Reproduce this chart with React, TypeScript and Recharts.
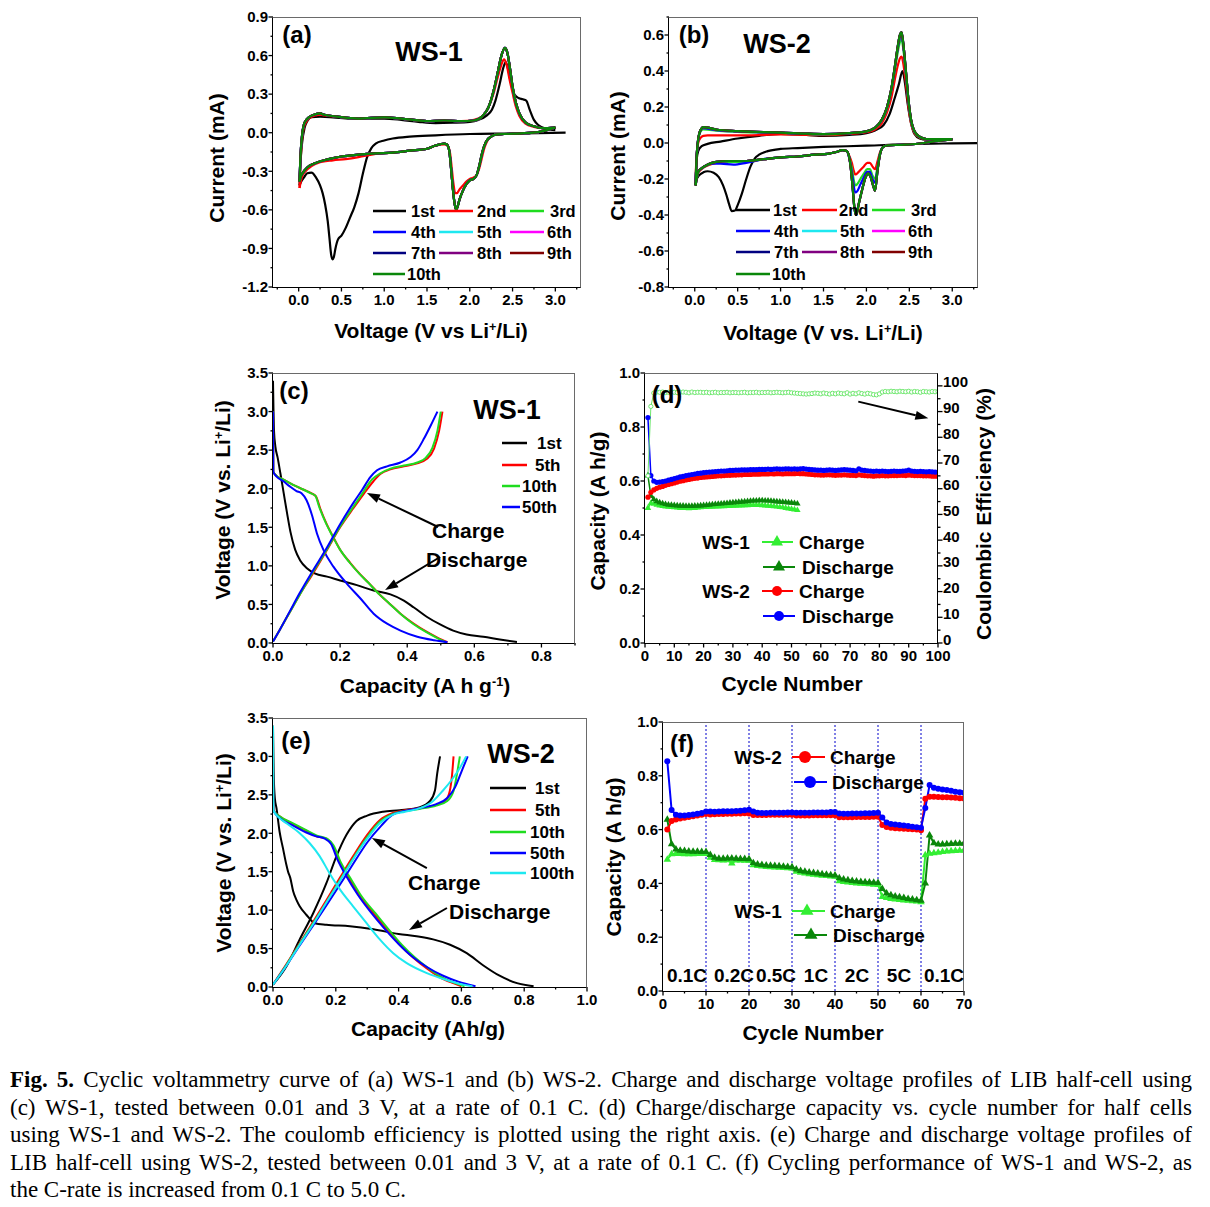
import React from "react";
import { LineChart, Line, XAxis, YAxis, ReferenceLine } from "recharts";

type P = [number, number];
type Rect = { l: number; t: number; w: number; h: number };

const SANS = '"Liberation Sans", Arial, Helvetica, sans-serif';
const SERIF = '"Liberation Serif", "Times New Roman", Times, serif';

const BLACK = "#000000";
const RED = "#ff0000";
const GREEN = "#1fdc1f";
const BLUE = "#0000ff";
const CYAN = "#1ee8f0";
const MAGENTA = "#ff00ff";
const NAVY = "#000080";
const PURPLE = "#800080";
const WINE = "#800000";
const DKGREEN = "#0a870a";
const LTGREEN = "#33ee33";
const CE_GREEN = "#6ee86e";
const DOT_BLUE = "#0000cc";

// ---------- (a) CV of WS-1, [V, mA] in sweep order ----------
const CV_A_1ST: P[] = [
  [3.12, 0.0], [2.8, -0.003], [2.4, -0.006], [2.0, -0.01], [1.6, -0.02], [1.3, -0.03], [1.1, -0.045],
  [1.0, -0.06], [0.9, -0.085], [0.85, -0.12], [0.8, -0.19], [0.75, -0.32], [0.7, -0.47], [0.65, -0.58],
  [0.6, -0.66], [0.55, -0.74], [0.5, -0.8], [0.46, -0.83], [0.43, -0.9], [0.41, -0.97], [0.395, -0.985],
  [0.38, -0.95], [0.36, -0.82], [0.34, -0.69], [0.31, -0.56], [0.28, -0.47], [0.25, -0.41], [0.2, -0.345],
  [0.15, -0.31], [0.1, -0.315], [0.06, -0.35], [0.03, -0.38], [0.01, -0.41],
  [0.02, -0.25], [0.04, -0.08], [0.07, 0.04], [0.1, 0.09], [0.15, 0.12], [0.25, 0.125], [0.4, 0.12],
  [0.6, 0.11], [0.8, 0.11], [1.0, 0.11], [1.2, 0.1], [1.4, 0.085], [1.6, 0.075], [1.8, 0.078], [2.0, 0.085],
  [2.1, 0.1], [2.2, 0.135], [2.26, 0.18], [2.3, 0.25], [2.35, 0.38], [2.39, 0.5], [2.42, 0.55], [2.45, 0.49],
  [2.48, 0.39], [2.52, 0.3], [2.57, 0.27], [2.62, 0.26], [2.66, 0.25], [2.7, 0.18], [2.75, 0.1], [2.8, 0.06],
  [2.9, 0.03], [3.0, 0.02],
];
const CV_A_2ND: P[] = [
  [3.0, 0.04], [2.9, 0.02], [2.8, 0.005], [2.6, -0.005], [2.4, -0.01], [2.3, -0.015], [2.25, -0.03],
  [2.2, -0.07], [2.17, -0.12], [2.14, -0.2], [2.11, -0.28], [2.08, -0.33], [2.04, -0.35], [2.0, -0.36],
  [1.96, -0.38], [1.92, -0.41], [1.88, -0.44], [1.85, -0.47], [1.83, -0.47], [1.81, -0.4], [1.79, -0.28],
  [1.77, -0.16], [1.74, -0.1], [1.7, -0.09], [1.6, -0.1], [1.5, -0.125], [1.3, -0.14], [1.1, -0.155],
  [0.9, -0.165], [0.7, -0.19], [0.55, -0.205], [0.4, -0.215], [0.25, -0.23], [0.15, -0.26], [0.08, -0.3],
  [0.04, -0.34], [0.01, -0.43],
  [0.02, -0.25], [0.04, -0.05], [0.07, 0.06], [0.12, 0.11], [0.2, 0.135], [0.25, 0.14], [0.3, 0.135],
  [0.45, 0.125], [0.7, 0.11], [1.0, 0.12], [1.2, 0.11], [1.5, 0.09], [1.7, 0.095], [1.9, 0.09], [2.05, 0.1],
  [2.15, 0.13], [2.22, 0.2], [2.28, 0.31], [2.33, 0.44], [2.37, 0.53], [2.4, 0.57], [2.43, 0.53],
  [2.46, 0.43], [2.5, 0.31], [2.54, 0.2], [2.58, 0.13], [2.65, 0.07], [2.75, 0.045], [2.85, 0.035], [3.0, 0.04],
];
const CV_A_LATER: P[] = [
  [3.0, 0.04], [2.9, 0.02], [2.8, 0.005], [2.6, -0.005], [2.4, -0.01], [2.3, -0.015], [2.25, -0.03],
  [2.2, -0.06], [2.17, -0.1], [2.14, -0.17], [2.11, -0.26], [2.08, -0.33], [2.04, -0.36], [2.0, -0.37],
  [1.96, -0.4], [1.92, -0.45], [1.88, -0.52], [1.855, -0.58], [1.84, -0.6], [1.82, -0.54], [1.8, -0.42],
  [1.78, -0.27], [1.76, -0.14], [1.73, -0.09], [1.7, -0.085], [1.6, -0.1], [1.5, -0.125], [1.3, -0.14],
  [1.1, -0.155], [0.9, -0.16], [0.7, -0.17], [0.5, -0.185], [0.35, -0.205], [0.2, -0.235], [0.1, -0.27],
  [0.05, -0.31], [0.02, -0.35], [0.01, -0.38],
  [0.02, -0.2], [0.04, -0.02], [0.07, 0.08], [0.12, 0.12], [0.2, 0.145], [0.25, 0.15], [0.3, 0.14],
  [0.45, 0.125], [0.7, 0.11], [1.0, 0.12], [1.2, 0.11], [1.5, 0.09], [1.7, 0.095], [1.9, 0.09], [2.05, 0.095],
  [2.15, 0.13], [2.22, 0.2], [2.28, 0.33], [2.33, 0.48], [2.37, 0.6], [2.41, 0.66], [2.44, 0.62],
  [2.47, 0.5], [2.5, 0.36], [2.54, 0.23], [2.58, 0.15], [2.65, 0.08], [2.75, 0.05], [2.85, 0.035], [3.0, 0.04],
];

// ---------- (b) CV of WS-2 ----------
const CV_B_1ST: P[] = [
  [3.35, 0.0], [3.0, -0.002], [2.5, -0.006], [2.0, -0.015], [1.5, -0.022], [1.2, -0.028], [1.0, -0.033],
  [0.85, -0.045], [0.75, -0.065], [0.7, -0.085], [0.65, -0.13], [0.6, -0.2], [0.55, -0.28], [0.5, -0.345],
  [0.47, -0.375], [0.43, -0.378], [0.4, -0.34], [0.37, -0.29], [0.33, -0.235], [0.28, -0.19], [0.22, -0.165],
  [0.15, -0.157], [0.1, -0.163], [0.05, -0.18], [0.01, -0.21],
  [0.02, -0.1], [0.04, -0.045], [0.08, -0.018], [0.15, -0.005], [0.3, 0.008], [0.5, 0.025], [0.75, 0.04],
  [1.0, 0.05], [1.3, 0.045], [1.5, 0.04], [1.8, 0.045], [2.0, 0.055], [2.1, 0.07], [2.2, 0.1], [2.27, 0.16],
  [2.33, 0.25], [2.38, 0.33], [2.42, 0.4], [2.45, 0.33], [2.48, 0.22], [2.52, 0.11], [2.56, 0.05],
  [2.62, 0.025], [2.7, 0.018], [3.0, 0.018],
];
const CV_B_2ND: P[] = [
  [3.0, 0.022], [2.8, 0.01], [2.6, -0.004], [2.4, -0.01], [2.25, -0.013], [2.2, -0.02], [2.16, -0.05],
  [2.13, -0.1], [2.1, -0.145], [2.07, -0.13], [2.04, -0.11], [2.01, -0.11], [1.97, -0.13], [1.93, -0.15],
  [1.89, -0.17], [1.87, -0.175], [1.85, -0.15], [1.83, -0.11], [1.8, -0.07], [1.77, -0.045], [1.72, -0.04],
  [1.65, -0.05], [1.55, -0.06], [1.4, -0.065], [1.2, -0.075], [1.0, -0.08], [0.8, -0.09], [0.6, -0.1],
  [0.4, -0.105], [0.25, -0.11], [0.15, -0.125], [0.08, -0.145], [0.04, -0.165], [0.01, -0.2],
  [0.02, -0.08], [0.04, 0.0], [0.07, 0.03], [0.1, 0.04], [0.15, 0.042], [0.3, 0.042], [0.5, 0.042],
  [0.8, 0.045], [1.0, 0.048], [1.3, 0.045], [1.5, 0.043], [1.8, 0.05], [2.0, 0.06], [2.1, 0.075],
  [2.18, 0.11], [2.24, 0.17], [2.29, 0.25], [2.33, 0.35], [2.36, 0.42], [2.39, 0.47], [2.41, 0.48],
  [2.43, 0.44], [2.46, 0.33], [2.49, 0.2], [2.52, 0.11], [2.56, 0.055], [2.62, 0.03], [2.7, 0.02], [3.0, 0.02],
];
const CV_B_3RD: P[] = [
  [3.0, 0.022], [2.8, 0.01], [2.6, -0.004], [2.4, -0.01], [2.25, -0.013], [2.2, -0.02], [2.16, -0.055],
  [2.13, -0.13], [2.1, -0.2], [2.07, -0.18], [2.04, -0.145], [2.01, -0.145], [1.97, -0.17], [1.93, -0.2],
  [1.89, -0.23], [1.87, -0.235], [1.85, -0.2], [1.83, -0.14], [1.8, -0.08], [1.77, -0.045], [1.72, -0.04],
  [1.65, -0.05], [1.55, -0.06], [1.4, -0.065], [1.2, -0.075], [1.0, -0.08], [0.8, -0.09], [0.6, -0.105],
  [0.4, -0.105], [0.25, -0.108], [0.15, -0.122], [0.08, -0.142], [0.04, -0.162], [0.01, -0.215],
  [0.02, -0.09], [0.04, 0.015], [0.07, 0.065], [0.1, 0.075], [0.15, 0.074], [0.25, 0.068], [0.5, 0.062],
  [0.8, 0.058], [1.0, 0.056], [1.3, 0.05], [1.5, 0.048], [1.8, 0.054], [2.0, 0.064], [2.1, 0.083],
  [2.18, 0.125], [2.24, 0.19], [2.29, 0.29], [2.33, 0.4], [2.36, 0.49], [2.39, 0.56], [2.41, 0.575],
  [2.43, 0.52], [2.46, 0.38], [2.49, 0.23], [2.52, 0.12], [2.56, 0.06], [2.62, 0.032], [2.7, 0.021], [3.0, 0.021],
];
const CV_B_4TH: P[] = [
  [3.0, 0.022], [2.8, 0.01], [2.6, -0.004], [2.4, -0.01], [2.25, -0.013], [2.2, -0.02], [2.16, -0.058],
  [2.13, -0.14], [2.1, -0.22], [2.07, -0.2], [2.04, -0.16], [2.01, -0.16], [1.97, -0.19], [1.93, -0.23],
  [1.89, -0.27], [1.87, -0.275], [1.85, -0.23], [1.83, -0.16], [1.8, -0.085], [1.77, -0.045], [1.72, -0.04],
  [1.65, -0.05], [1.55, -0.06], [1.4, -0.065], [1.2, -0.075], [1.0, -0.08], [0.8, -0.09], [0.6, -0.11],
  [0.45, -0.12], [0.3, -0.115], [0.2, -0.115], [0.12, -0.128], [0.07, -0.145], [0.04, -0.16], [0.01, -0.225],
  [0.02, -0.095], [0.04, 0.018], [0.07, 0.072], [0.1, 0.083], [0.15, 0.08], [0.25, 0.072], [0.5, 0.064],
  [0.8, 0.059], [1.0, 0.057], [1.3, 0.051], [1.5, 0.049], [1.8, 0.055], [2.0, 0.065], [2.1, 0.084],
  [2.18, 0.128], [2.24, 0.195], [2.29, 0.295], [2.33, 0.41], [2.36, 0.51], [2.39, 0.585], [2.41, 0.6],
  [2.43, 0.54], [2.46, 0.39], [2.49, 0.235], [2.52, 0.125], [2.56, 0.063], [2.62, 0.034], [2.7, 0.022], [3.0, 0.022],
];
const CV_B_LATER: P[] = [
  [3.0, 0.022], [2.8, 0.01], [2.6, -0.004], [2.4, -0.01], [2.25, -0.013], [2.2, -0.02], [2.16, -0.06],
  [2.13, -0.15], [2.1, -0.265], [2.08, -0.24], [2.05, -0.19], [2.02, -0.17], [1.99, -0.19], [1.95, -0.26],
  [1.91, -0.34], [1.88, -0.4], [1.86, -0.36], [1.84, -0.25], [1.82, -0.15], [1.8, -0.08], [1.77, -0.045],
  [1.72, -0.04], [1.65, -0.05], [1.55, -0.06], [1.4, -0.065], [1.2, -0.075], [1.0, -0.08], [0.8, -0.09],
  [0.6, -0.1], [0.4, -0.1], [0.25, -0.105], [0.15, -0.12], [0.08, -0.14], [0.04, -0.16], [0.01, -0.235],
  [0.02, -0.1], [0.04, 0.02], [0.07, 0.075], [0.1, 0.088], [0.15, 0.085], [0.25, 0.075], [0.5, 0.066],
  [0.8, 0.06], [1.0, 0.058], [1.3, 0.052], [1.5, 0.05], [1.8, 0.055], [2.0, 0.065], [2.1, 0.085],
  [2.18, 0.13], [2.24, 0.2], [2.29, 0.3], [2.33, 0.42], [2.36, 0.52], [2.39, 0.6], [2.41, 0.615],
  [2.43, 0.55], [2.46, 0.4], [2.49, 0.24], [2.52, 0.13], [2.56, 0.065], [2.62, 0.035], [2.7, 0.022], [3.0, 0.022],
];

const CV_CYCLES = ["1st", "2nd", "3rd", "4th", "5th", "6th", "7th", "8th", "9th", "10th"];
const CV_COLORS = [BLACK, RED, GREEN, BLUE, CYAN, MAGENTA, NAVY, PURPLE, WINE, DKGREEN];
const CV_A_SERIES = [CV_A_1ST, CV_A_2ND, CV_A_LATER, CV_A_LATER, CV_A_LATER, CV_A_LATER, CV_A_LATER, CV_A_LATER, CV_A_LATER, CV_A_LATER];
const CV_B_SERIES = [CV_B_1ST, CV_B_2ND, CV_B_3RD, CV_B_4TH, CV_B_LATER, CV_B_LATER, CV_B_LATER, CV_B_LATER, CV_B_LATER, CV_B_LATER];

// ---------- (c) WS-1 charge/discharge, [A h/g, V] ----------
const C_1ST_DIS: P[] = [
  [0, 3.4], [0.003, 2.75], [0.007, 2.55], [0.014, 2.4], [0.022, 2.2], [0.032, 1.94], [0.042, 1.68],
  [0.052, 1.44], [0.066, 1.21], [0.081, 1.07], [0.101, 0.97], [0.126, 0.9], [0.161, 0.86], [0.2, 0.81],
  [0.25, 0.75], [0.3, 0.68], [0.35, 0.63], [0.39, 0.55], [0.42, 0.46], [0.458, 0.34], [0.498, 0.24],
  [0.537, 0.16], [0.577, 0.11], [0.627, 0.08], [0.676, 0.045], [0.727, 0.012],
];
const C_5TH_DIS: P[] = [
  [0, 3.0], [0.001, 2.22], [0.01, 2.17], [0.03, 2.12], [0.06, 2.05], [0.09, 1.99], [0.115, 1.94],
  [0.128, 1.9], [0.141, 1.74], [0.16, 1.54], [0.18, 1.37], [0.2, 1.21], [0.23, 1.04], [0.26, 0.89],
  [0.285, 0.78], [0.32, 0.62], [0.35, 0.5], [0.38, 0.38], [0.42, 0.25], [0.46, 0.14], [0.49, 0.07], [0.52, 0.01],
];
const C_10TH_DIS: P[] = [
  [0, 3.0], [0.001, 2.22], [0.01, 2.17], [0.03, 2.12], [0.06, 2.05], [0.09, 1.99], [0.113, 1.94],
  [0.126, 1.91], [0.138, 1.76], [0.157, 1.56], [0.177, 1.39], [0.197, 1.23], [0.227, 1.05], [0.257, 0.9],
  [0.282, 0.79], [0.317, 0.63], [0.347, 0.51], [0.377, 0.39], [0.417, 0.25], [0.457, 0.14], [0.487, 0.07], [0.515, 0.01],
];
const C_50TH_DIS: P[] = [
  [0, 3.0], [0.001, 2.22], [0.01, 2.16], [0.03, 2.1], [0.05, 2.03], [0.07, 1.97], [0.085, 1.94],
  [0.1, 1.85], [0.116, 1.66], [0.131, 1.42], [0.151, 1.2], [0.18, 0.99], [0.22, 0.77], [0.26, 0.58],
  [0.3, 0.38], [0.34, 0.25], [0.38, 0.16], [0.43, 0.08], [0.48, 0.035], [0.52, 0.01],
];
const C_5TH_CHG: P[] = [
  [0, 0.02], [0.02, 0.17], [0.05, 0.4], [0.08, 0.63], [0.116, 0.88], [0.16, 1.2], [0.2, 1.5], [0.24, 1.75],
  [0.27, 1.93], [0.3, 2.1], [0.32, 2.19], [0.35, 2.25], [0.39, 2.29], [0.43, 2.33], [0.46, 2.39],
  [0.48, 2.52], [0.495, 2.75], [0.505, 3.0],
];
const C_10TH_CHG: P[] = [
  [0, 0.02], [0.02, 0.17], [0.05, 0.4], [0.08, 0.63], [0.115, 0.89], [0.16, 1.21], [0.2, 1.51], [0.24, 1.77],
  [0.268, 1.95], [0.295, 2.12], [0.32, 2.2], [0.35, 2.26], [0.39, 2.3], [0.43, 2.34], [0.455, 2.4],
  [0.475, 2.53], [0.49, 2.75], [0.5, 3.0],
];
const C_50TH_CHG: P[] = [
  [0, 0.02], [0.02, 0.17], [0.05, 0.41], [0.08, 0.65], [0.115, 0.91], [0.16, 1.23], [0.2, 1.54], [0.24, 1.82],
  [0.265, 1.98], [0.29, 2.15], [0.31, 2.24], [0.34, 2.29], [0.38, 2.34], [0.41, 2.41], [0.43, 2.5],
  [0.45, 2.65], [0.47, 2.82], [0.49, 3.0],
];

// ---------- (e) WS-2 charge/discharge ----------
const E_1ST_DIS: P[] = [
  [0, 3.4], [0.002, 2.8], [0.006, 2.45], [0.011, 2.33], [0.021, 2.02], [0.032, 1.8], [0.042, 1.6],
  [0.048, 1.5], [0.055, 1.42], [0.064, 1.25], [0.075, 1.13], [0.085, 1.05], [0.106, 0.94], [0.133, 0.83],
  [0.17, 0.81], [0.245, 0.79], [0.32, 0.75], [0.4, 0.69], [0.457, 0.66], [0.51, 0.62], [0.564, 0.55],
  [0.617, 0.44], [0.67, 0.28], [0.72, 0.15], [0.777, 0.05], [0.83, 0.01],
];
const E_5TH_DIS: P[] = [
  [0, 3.0], [0.001, 2.3], [0.021, 2.22], [0.064, 2.12], [0.106, 2.03], [0.138, 1.96], [0.17, 1.93],
  [0.19, 1.84], [0.213, 1.62], [0.245, 1.4], [0.277, 1.18], [0.32, 0.96], [0.362, 0.75], [0.404, 0.55],
  [0.447, 0.38], [0.49, 0.24], [0.53, 0.13], [0.574, 0.05], [0.6, 0.01],
];
const E_10TH_DIS: P[] = [
  [0, 3.0], [0.001, 2.3], [0.021, 2.22], [0.064, 2.13], [0.106, 2.04], [0.14, 1.97], [0.172, 1.93],
  [0.193, 1.84], [0.216, 1.62], [0.249, 1.4], [0.282, 1.18], [0.326, 0.96], [0.368, 0.75], [0.41, 0.55],
  [0.453, 0.38], [0.496, 0.24], [0.536, 0.13], [0.58, 0.05], [0.61, 0.01],
];
const E_50TH_DIS: P[] = [
  [0, 3.0], [0.001, 2.3], [0.021, 2.2], [0.064, 2.1], [0.106, 2.01], [0.138, 1.96], [0.165, 1.93],
  [0.185, 1.86], [0.205, 1.66], [0.235, 1.43], [0.27, 1.2], [0.31, 0.98], [0.355, 0.76], [0.4, 0.56],
  [0.445, 0.39], [0.49, 0.26], [0.54, 0.15], [0.59, 0.07], [0.645, 0.01],
];
const E_100TH_DIS: P[] = [
  [0, 3.4], [0.001, 2.3], [0.02, 2.2], [0.043, 2.13], [0.085, 2.0], [0.117, 1.87], [0.149, 1.7],
  [0.18, 1.48], [0.213, 1.27], [0.255, 1.05], [0.298, 0.83], [0.34, 0.62], [0.383, 0.44], [0.426, 0.31],
  [0.49, 0.18], [0.553, 0.09], [0.6, 0.035], [0.635, 0.01],
];
const E_1ST_CHG: P[] = [
  [0, 0.03], [0.043, 0.27], [0.085, 0.62], [0.128, 0.96], [0.17, 1.35], [0.2, 1.68], [0.234, 1.98],
  [0.266, 2.16], [0.3, 2.23], [0.35, 2.28], [0.404, 2.3], [0.468, 2.34], [0.5, 2.42], [0.516, 2.56],
  [0.523, 2.78], [0.532, 3.0],
];
const E_5TH_CHG: P[] = [
  [0, 0.03], [0.043, 0.3], [0.085, 0.57], [0.128, 0.85], [0.17, 1.13], [0.213, 1.42], [0.255, 1.7],
  [0.3, 1.98], [0.34, 2.17], [0.38, 2.26], [0.42, 2.3], [0.47, 2.33], [0.52, 2.37], [0.55, 2.43],
  [0.563, 2.55], [0.57, 2.75], [0.575, 3.0],
];
const E_10TH_CHG: P[] = [
  [0, 0.03], [0.043, 0.29], [0.085, 0.56], [0.128, 0.83], [0.17, 1.1], [0.213, 1.39], [0.255, 1.67],
  [0.3, 1.95], [0.34, 2.15], [0.38, 2.25], [0.42, 2.29], [0.47, 2.32], [0.52, 2.36], [0.555, 2.42],
  [0.575, 2.55], [0.585, 2.75], [0.595, 3.0],
];
const E_50TH_CHG: P[] = [
  [0, 0.03], [0.043, 0.28], [0.085, 0.54], [0.128, 0.8], [0.17, 1.06], [0.213, 1.33], [0.255, 1.6],
  [0.3, 1.88], [0.345, 2.1], [0.38, 2.24], [0.42, 2.29], [0.47, 2.33], [0.52, 2.38], [0.555, 2.46],
  [0.58, 2.6], [0.6, 2.8], [0.62, 3.0],
];
const E_100TH_CHG: P[] = [
  [0, 0.03], [0.043, 0.28], [0.085, 0.55], [0.128, 0.82], [0.17, 1.1], [0.213, 1.38], [0.255, 1.66],
  [0.3, 1.93], [0.34, 2.13], [0.38, 2.24], [0.42, 2.28], [0.47, 2.33], [0.51, 2.42], [0.54, 2.55],
  [0.57, 2.7], [0.595, 2.85], [0.615, 3.0],
];

// ---------- (d) capacity vs cycle (A h/g), CE in % ----------
const D_WS2_DIS = [
  0.835, 0.62, 0.6, 0.595, 0.596, 0.598, 0.6, 0.603, 0.606, 0.609,
  0.612, 0.615, 0.617, 0.62, 0.622, 0.624, 0.626, 0.628, 0.629, 0.631,
  0.632, 0.633, 0.634, 0.635, 0.636, 0.637, 0.637, 0.638, 0.639, 0.639,
  0.64, 0.64, 0.641, 0.641, 0.641, 0.642, 0.642, 0.642, 0.643, 0.643,
  0.643, 0.644, 0.643, 0.644, 0.645, 0.644, 0.644, 0.645, 0.645, 0.644,
  0.645, 0.644, 0.645, 0.646, 0.644, 0.643, 0.642, 0.641, 0.64, 0.64,
  0.639, 0.64, 0.641, 0.64, 0.639, 0.64, 0.641, 0.642, 0.641, 0.64,
  0.639, 0.638, 0.645, 0.64, 0.639, 0.638, 0.637, 0.636, 0.637, 0.636,
  0.637, 0.636, 0.635, 0.636, 0.637, 0.636, 0.636, 0.637, 0.638, 0.64,
  0.637, 0.636, 0.635, 0.636, 0.635, 0.634, 0.635, 0.634, 0.633, 0.633,
];
const D_WS2_CHG = [
  0.54, 0.558, 0.567, 0.573, 0.577, 0.58, 0.584, 0.587, 0.59, 0.593,
  0.596, 0.599, 0.601, 0.604, 0.606, 0.608, 0.61, 0.611, 0.613, 0.614,
  0.615, 0.616, 0.617, 0.618, 0.619, 0.619, 0.62, 0.621, 0.621, 0.622,
  0.622, 0.623, 0.623, 0.624, 0.624, 0.624, 0.625, 0.625, 0.625, 0.626,
  0.626, 0.626, 0.627, 0.626, 0.627, 0.627, 0.626, 0.627, 0.627, 0.627,
  0.627, 0.628, 0.627, 0.627, 0.626, 0.625, 0.624, 0.623, 0.623, 0.622,
  0.622, 0.623, 0.623, 0.622, 0.621, 0.622, 0.622, 0.623, 0.622, 0.621,
  0.621, 0.62, 0.623, 0.621, 0.62, 0.619, 0.619, 0.618, 0.619, 0.619,
  0.62, 0.619, 0.619, 0.62, 0.62, 0.62, 0.621, 0.621, 0.62, 0.622,
  0.621, 0.62, 0.62, 0.62, 0.619, 0.619, 0.619, 0.618, 0.618, 0.618,
];
const D_WS1_DIS = [
  0.62, 0.545, 0.532, 0.525, 0.52, 0.517, 0.514, 0.512, 0.511, 0.51,
  0.509, 0.508, 0.508, 0.507, 0.507, 0.507, 0.508, 0.508, 0.509, 0.51,
  0.511, 0.512, 0.513, 0.514, 0.515, 0.516, 0.517, 0.518, 0.519, 0.52,
  0.521, 0.522, 0.523, 0.524, 0.525, 0.526, 0.527, 0.527, 0.528, 0.528,
  0.527, 0.527, 0.526, 0.525, 0.524, 0.523, 0.522, 0.521, 0.52, 0.519,
  0.518, 0.516,
];
const D_WS1_CHG = [
  0.5, 0.518, 0.515, 0.512, 0.509, 0.507, 0.505, 0.504, 0.503, 0.502,
  0.501, 0.5, 0.5, 0.5, 0.499, 0.5, 0.5, 0.501, 0.502, 0.503,
  0.503, 0.504, 0.504, 0.505, 0.505, 0.506, 0.506, 0.507, 0.507, 0.508,
  0.508, 0.509, 0.509, 0.51, 0.51, 0.511, 0.511, 0.511, 0.511, 0.51,
  0.509, 0.508, 0.507, 0.506, 0.505, 0.503, 0.502, 0.5, 0.498, 0.496,
  0.494, 0.492,
];
const D_CE = [
  65, 92, 97.2, 97.6, 97.5, 97.6, 97.4, 97.5, 97.6, 97.5,
  97.4, 97.5, 97.6, 97.5, 97.3, 97.6, 97.4, 97.5, 97.5, 97.4,
  97.5, 97.3, 97.4, 97.5, 97.3, 97.4, 97.4, 97.5, 97.3, 97.4,
  97.4, 97.3, 97.4, 97.5, 97.3, 97.4, 97.4, 97.5, 97.3, 97.4,
  97.4, 97.5, 97.3, 97.4, 97.5, 97.4, 97.3, 97.4, 97.5, 97.3,
  97.2, 97.1, 97.0, 96.9, 96.8, 96.9, 97.0, 97.2, 97.1, 96.9,
  97.2, 97.0, 96.8, 97.1, 96.9, 97.2, 97.0, 96.9, 97.3, 96.8,
  97.1, 96.9, 97.3, 97.0, 96.8, 97.1, 96.9, 96.6, 96.5, 96.9,
  97.6, 97.8, 97.7, 97.9, 97.8, 97.7, 97.9, 97.8, 97.7, 97.9,
  97.6, 97.8, 97.7, 97.5, 97.8, 97.7, 97.6, 97.8, 97.7, 97.8,
];

// ---------- (f) rate capability ----------
const F_WS2_CHG = [
  0.6, 0.632, 0.638, 0.641, 0.644, 0.647, 0.65, 0.652, 0.655, 0.658,
  0.656, 0.657, 0.658, 0.658, 0.659, 0.659, 0.66, 0.66, 0.661, 0.66,
  0.654, 0.654, 0.654, 0.654, 0.655, 0.655, 0.655, 0.655, 0.655, 0.655,
  0.652, 0.652, 0.652, 0.652, 0.653, 0.653, 0.653, 0.653, 0.653, 0.653,
  0.646, 0.646, 0.646, 0.646, 0.647, 0.647, 0.647, 0.647, 0.648, 0.648,
  0.617, 0.61, 0.607, 0.605, 0.604, 0.603, 0.602, 0.601, 0.6, 0.598,
  0.715, 0.722, 0.722, 0.721, 0.72, 0.72, 0.719, 0.718, 0.717, 0.716,
];
const F_WS2_DIS = [
  0.854, 0.673, 0.655, 0.652, 0.652, 0.654, 0.656, 0.659, 0.662, 0.667,
  0.667, 0.666, 0.667, 0.668, 0.668, 0.668, 0.669, 0.67, 0.672, 0.674,
  0.667, 0.663, 0.662, 0.662, 0.663, 0.663, 0.663, 0.663, 0.664, 0.664,
  0.663, 0.663, 0.663, 0.663, 0.664, 0.664, 0.664, 0.664, 0.665, 0.665,
  0.66, 0.659, 0.659, 0.66, 0.66, 0.66, 0.661, 0.661, 0.662, 0.663,
  0.645, 0.626, 0.621, 0.619, 0.617, 0.615, 0.613, 0.611, 0.609, 0.607,
  0.68, 0.766, 0.756, 0.752, 0.749, 0.747, 0.744, 0.741, 0.739, 0.737,
];
const F_WS1_CHG = [
  0.489, 0.509, 0.51, 0.51, 0.509, 0.509, 0.509, 0.51, 0.51, 0.51,
  0.496, 0.488, 0.487, 0.486, 0.487, 0.475, 0.486, 0.486, 0.485, 0.485,
  0.468, 0.465, 0.463, 0.462, 0.461, 0.46, 0.459, 0.458, 0.457, 0.456,
  0.444, 0.44, 0.437, 0.435, 0.433, 0.431, 0.429, 0.428, 0.426, 0.425,
  0.409, 0.406, 0.404, 0.402, 0.4, 0.399, 0.398, 0.397, 0.396, 0.395,
  0.35, 0.346, 0.343, 0.341, 0.339, 0.337, 0.336, 0.334, 0.333, 0.331,
  0.505, 0.511, 0.513, 0.515, 0.517, 0.519, 0.52, 0.521, 0.522, 0.523,
];
const F_WS1_DIS = [
  0.637, 0.546, 0.527, 0.522, 0.521, 0.519, 0.518, 0.518, 0.517, 0.517,
  0.506, 0.496, 0.492, 0.492, 0.493, 0.493, 0.492, 0.491, 0.491, 0.49,
  0.476, 0.471, 0.469, 0.467, 0.466, 0.465, 0.464, 0.463, 0.462, 0.461,
  0.452, 0.447, 0.444, 0.441, 0.439, 0.437, 0.435, 0.433, 0.431, 0.43,
  0.42, 0.415, 0.412, 0.41, 0.408, 0.406, 0.405, 0.404, 0.403, 0.402,
  0.38, 0.363, 0.357, 0.352, 0.349, 0.346, 0.343, 0.341, 0.338, 0.336,
  0.4, 0.579, 0.55, 0.545, 0.545, 0.546, 0.547, 0.548, 0.548, 0.549,
];
const F_RATE_BOUNDS = [10, 20, 30, 40, 50, 60];
const F_RATE_LABELS = ["0.1C", "0.2C", "0.5C", "1C", "2C", "5C", "0.1C"];

// ---------- ticks ----------
const CV_X_TICKS = [-0.25, 0, 0.25, 0.5, 0.75, 1, 1.25, 1.5, 1.75, 2, 2.25, 2.5, 2.75, 3, 3.25];
const A_Y_TICKS = [-1.2, -1.05, -0.9, -0.75, -0.6, -0.45, -0.3, -0.15, 0, 0.15, 0.3, 0.45, 0.6, 0.75, 0.9];
const B_Y_TICKS = [-0.8, -0.7, -0.6, -0.5, -0.4, -0.3, -0.2, -0.1, 0, 0.1, 0.2, 0.3, 0.4, 0.5, 0.6, 0.7];
const V_TICKS = [0, 0.25, 0.5, 0.75, 1, 1.25, 1.5, 1.75, 2, 2.25, 2.5, 2.75, 3, 3.25, 3.5];
const C_X_TICKS = [0, 0.1, 0.2, 0.3, 0.4, 0.5, 0.6, 0.7, 0.8, 0.9];
const E_X_TICKS = [0, 0.1, 0.2, 0.3, 0.4, 0.5, 0.6, 0.7, 0.8, 0.9, 1];
const CAP_TICKS = [0, 0.1, 0.2, 0.3, 0.4, 0.5, 0.6, 0.7, 0.8, 0.9, 1];
const D_X_TICKS = [0, 5, 10, 15, 20, 25, 30, 35, 40, 45, 50, 55, 60, 65, 70, 75, 80, 85, 90, 95, 100];
const D_CE_TICKS = [0, 5, 10, 15, 20, 25, 30, 35, 40, 45, 50, 55, 60, 65, 70, 75, 80, 85, 90, 95, 100];
const F_X_TICKS = [0, 5, 10, 15, 20, 25, 30, 35, 40, 45, 50, 55, 60, 65, 70];

// ---------- arrows, [x1, y1, x2, y2] in data units (tail -> head) ----------
const C_ARROWS = [[0.492, 1.504, 0.28, 1.944], [0.498, 1.115, 0.334, 0.687]];
const E_ARROWS = [[0.49, 1.548, 0.315, 1.939], [0.554, 1.028, 0.433, 0.742]];
const D_ARROW = [72.8, 0.894, 96.7, 0.832];

// plot areas in page pixels
const RA: Rect = { l: 273, t: 17, w: 308, h: 270 };
const RB: Rect = { l: 669, t: 17, w: 309, h: 270 };
const RC: Rect = { l: 273, t: 373, w: 302, h: 270 };
const RD: Rect = { l: 645, t: 373, w: 293, h: 270 };
const RE: Rect = { l: 273, t: 718, w: 314, h: 269 };
const RF: Rect = { l: 663, t: 722, w: 301, h: 269 };

const pts = (a: P[]) => a.map(([x, y]) => ({ x, y }));
const byCycle = (a: number[]) => a.map((y, i) => ({ x: i + 1, y }));

// split a CV loop into its cathodic and anodic branches, both ordered by voltage
function branches(a: P[]) {
  let k = 0;
  a.forEach((p, i) => {
    if (p[0] < a[k][0]) k = i;
  });
  return [pts(a.slice(0, k + 1).reverse()), pts(a.slice(k))];
}

const f1 = (v: number) => v.toFixed(1);
const f0 = (v: number) => String(Math.round(v));

function tickFn(side: "bottom" | "left" | "right", step: number, fmt: (v: number) => string) {
  return (p: any) => {
    const v = p.payload.value;
    const major = Math.abs(v / step - Math.round(v / step)) < 1e-6;
    const len = major ? 4.5 : 2.5;
    const { x, y } = p;
    const txt = { fontFamily: SANS, fontSize: 15, fontWeight: 700, fill: "#000" };
    if (side === "bottom") {
      return (
        <g>
          <line x1={x} x2={x} y1={y} y2={y + len} stroke="#000" strokeWidth={1.3} />
          {major && (
            <text x={x} y={y + 18.3} textAnchor="middle" style={txt}>
              {fmt(v)}
            </text>
          )}
        </g>
      );
    }
    const dir = side === "left" ? -1 : 1;
    return (
      <g>
        <line x1={x} x2={x + dir * len} y1={y} y2={y} stroke="#000" strokeWidth={1.3} />
        {major && (
          <text x={x + dir * 5} y={y + (side === "left" ? 5.3 : 1.5)} textAnchor={side === "left" ? "end" : "start"} style={txt}>
            {fmt(v)}
          </text>
        )}
      </g>
    );
  };
}

function xAxis(domain: number[], ticks: number[], step: number, fmt: (v: number) => string) {
  return (
    <XAxis
      type="number"
      dataKey="x"
      domain={domain}
      ticks={ticks}
      interval={0}
      allowDataOverflow
      height={40}
      tickSize={0}
      tickMargin={0}
      axisLine={false}
      tickLine={false}
      tick={tickFn("bottom", step, fmt)}
    />
  );
}

function yAxis(domain: number[], ticks: number[], step: number, fmt: (v: number) => string, id: string = "l", side: "left" | "right" = "left") {
  return (
    <YAxis
      yAxisId={id}
      orientation={side}
      type="number"
      domain={domain}
      ticks={ticks}
      interval={0}
      allowDataOverflow
      width={70}
      tickSize={0}
      tickMargin={0}
      axisLine={false}
      tickLine={false}
      tick={tickFn(side, step, fmt)}
    />
  );
}

const arrowShape = (p: any) => {
  const { x1, y1, x2, y2 } = p;
  const ang = Math.atan2(y2 - y1, x2 - x1);
  const L = 13;
  const W = 4.5;
  const bx = x2 - L * Math.cos(ang);
  const by = y2 - L * Math.sin(ang);
  const px = -Math.sin(ang) * W;
  const py = Math.cos(ang) * W;
  return (
    <g>
      <line x1={x1} y1={y1} x2={bx} y2={by} stroke="#000" strokeWidth={2} />
      <polygon points={`${x2},${y2} ${bx + px},${by + py} ${bx - px},${by - py}`} fill="#000" />
    </g>
  );
};

function triPath(cx: number, cy: number, s: number) {
  return `M${cx},${cy - s * 0.577}L${cx + s / 2},${cy + s * 0.289}L${cx - s / 2},${cy + s * 0.289}Z`;
}
const circleDot = (fill: string, r: number) => (p: any) => (
  <circle key={`c${p.index}`} cx={p.cx} cy={p.cy} r={r} fill={fill} stroke="none" />
);
const hollowDot = (stroke: string, r: number) => (p: any) => (
  <circle key={`h${p.index}`} cx={p.cx} cy={p.cy} r={r} fill="#fff" stroke={stroke} strokeWidth={1} />
);
const triDot = (fill: string, s: number) => (p: any) => (
  <path key={`t${p.index}`} d={triPath(p.cx, p.cy, s)} fill={fill} />
);

function Plot({ r, right = false, children }: { r: Rect; right?: boolean; children: any }) {
  return (
    <div style={{ position: "absolute", left: r.l - 70, top: r.t - 10 }}>
      <LineChart width={r.w + 140} height={r.h + 50} margin={{ top: 10, right: right ? 0 : 70, bottom: 0, left: 0 }}>
        {children}
      </LineChart>
    </div>
  );
}

function Frame({ r, rightBlack = false }: { r: Rect; rightBlack?: boolean }) {
  return (
    <div
      style={{
        position: "absolute",
        left: r.l - 1,
        top: r.t,
        width: r.w + 1,
        height: r.h + 1,
        boxSizing: "border-box",
        borderLeft: "1.6px solid #000",
        borderBottom: "1.6px solid #000",
        borderTop: "1px solid #6a6a6a",
        borderRight: rightBlack ? "1.6px solid #000" : "1px solid #6a6a6a",
        pointerEvents: "none",
      }}
    />
  );
}

function Txt({ x, y, size, children, anchor = "middle", rot = false }: any) {
  const tx = anchor === "start" ? "0" : anchor === "end" ? "-100%" : "-50%";
  return (
    <div
      style={{
        position: "absolute",
        left: x,
        top: y,
        transform: `translate(${tx}, -50%)${rot ? " rotate(-90deg)" : ""}`,
        fontFamily: SANS,
        fontWeight: 700,
        fontSize: size,
        lineHeight: 1,
        whiteSpace: "nowrap",
        color: "#000",
      }}
    >
      {children}
    </div>
  );
}

const Sup = ({ children }: any) => (
  <span style={{ fontSize: "0.6em", position: "relative", top: "-0.55em" }}>{children}</span>
);

function cvLines(arr: P[], color: string, key: string) {
  return branches(arr).map((d, j) => (
    <Line
      key={`${key}-${j}`}
      yAxisId="l"
      data={d}
      dataKey="y"
      type="monotone"
      stroke={color}
      strokeWidth={2.2}
      dot={false}
      activeDot={false}
      isAnimationActive={false}
    />
  ));
}

function curve(arr: P[], color: string, key: string) {
  return (
    <Line
      key={key}
      yAxisId="l"
      data={pts(arr)}
      dataKey="y"
      type="monotone"
      stroke={color}
      strokeWidth={2}
      dot={false}
      activeDot={false}
      isAnimationActive={false}
    />
  );
}

// legend entries for the CV panels: [cycle index, line x1, line x2, text x, y]
const LEG_A = [
  [0, 373, 406, 411, 211], [1, 439, 473, 477, 211], [2, 510, 544, 550, 211],
  [3, 373, 406, 411, 232], [4, 439, 473, 477, 232], [5, 510, 544, 547, 232],
  [6, 373, 406, 411, 253], [7, 439, 473, 477, 253], [8, 510, 544, 547, 253],
  [9, 373, 405, 407, 274],
];
const LEG_B = [
  [0, 736, 770, 773, 210], [1, 802, 837, 839, 210], [2, 872, 905, 911, 210],
  [3, 736, 770, 774, 231], [4, 802, 837, 840, 231], [5, 872, 905, 908, 231],
  [6, 736, 770, 774, 252], [7, 802, 837, 840, 252], [8, 872, 905, 908, 252],
  [9, 736, 770, 772, 274],
];
const LEG_C: [string, string, number, number, number][] = [
  ["1st", BLACK, 527, 537, 443], ["5th", RED, 527, 535, 465], ["10th", GREEN, 520, 522, 486], ["50th", BLUE, 520, 522, 507],
];
const LEG_E: [string, string, number, number][] = [
  ["1st", BLACK, 535, 788], ["5th", RED, 535, 810], ["10th", GREEN, 530, 832], ["50th", BLUE, 530, 853], ["100th", CYAN, 530, 873],
];

export default function App() {
  return (
    <div style={{ position: "absolute", left: 0, top: 0, width: 1210, height: 1207, background: "#fff", overflow: "hidden" }}>
      {/* (a) */}
      <Plot r={RA}>
        {xAxis([-0.3, 3.3], CV_X_TICKS, 0.5, f1)}
        {yAxis([-1.2, 0.9], A_Y_TICKS, 0.3, f1)}
        {CV_A_SERIES.map((arr, i) => cvLines(arr, CV_COLORS[i], `a${i}`))}
      </Plot>
      {/* (b) */}
      <Plot r={RB}>
        {xAxis([-0.3, 3.3], CV_X_TICKS, 0.5, f1)}
        {yAxis([-0.8, 0.7], B_Y_TICKS, 0.2, f1)}
        {CV_B_SERIES.map((arr, i) => cvLines(arr, CV_COLORS[i], `b${i}`))}
      </Plot>
      {/* (c) */}
      <Plot r={RC}>
        {xAxis([0, 0.9], C_X_TICKS, 0.2, f1)}
        {yAxis([0, 3.5], V_TICKS, 0.5, f1)}
        {curve(C_1ST_DIS, BLACK, "c1d")}
        {curve(C_5TH_DIS, RED, "c5d")}
        {curve(C_10TH_DIS, GREEN, "c10d")}
        {curve(C_50TH_DIS, BLUE, "c50d")}
        {curve(C_5TH_CHG, RED, "c5c")}
        {curve(C_10TH_CHG, GREEN, "c10c")}
        {curve(C_50TH_CHG, BLUE, "c50c")}
        {C_ARROWS.map((a, i) => (
          <ReferenceLine key={`ca${i}`} yAxisId="l" segment={[{ x: a[0], y: a[1] }, { x: a[2], y: a[3] }]} shape={arrowShape} />
        ))}
      </Plot>
      {/* (d) */}
      <Plot r={RD} right>
        {xAxis([0, 100], D_X_TICKS, 10, f0)}
        {yAxis([0, 1], CAP_TICKS, 0.2, f1, "l", "left")}
        {yAxis([0, 105], D_CE_TICKS, 10, f0, "r", "right")}
        <Line yAxisId="l" data={byCycle(D_WS1_CHG)} dataKey="y" stroke={LTGREEN} strokeWidth={1.5} dot={triDot(LTGREEN, 6.5)} activeDot={false} isAnimationActive={false} />
        <Line yAxisId="l" data={byCycle(D_WS1_DIS)} dataKey="y" stroke={DKGREEN} strokeWidth={1.5} dot={triDot(DKGREEN, 6.5)} activeDot={false} isAnimationActive={false} />
        <Line yAxisId="l" data={byCycle(D_WS2_CHG)} dataKey="y" stroke={RED} strokeWidth={1.5} dot={circleDot(RED, 2.6)} activeDot={false} isAnimationActive={false} />
        <Line yAxisId="l" data={byCycle(D_WS2_DIS)} dataKey="y" stroke={BLUE} strokeWidth={1.5} dot={circleDot(BLUE, 2.6)} activeDot={false} isAnimationActive={false} />
        <Line yAxisId="r" data={byCycle(D_CE)} dataKey="y" stroke={CE_GREEN} strokeWidth={1} dot={hollowDot(CE_GREEN, 2.1)} activeDot={false} isAnimationActive={false} />
        <ReferenceLine yAxisId="l" segment={[{ x: D_ARROW[0], y: D_ARROW[1] }, { x: D_ARROW[2], y: D_ARROW[3] }]} shape={arrowShape} />
      </Plot>
      {/* (e) */}
      <Plot r={RE}>
        {xAxis([0, 1], E_X_TICKS, 0.2, f1)}
        {yAxis([0, 3.5], V_TICKS, 0.5, f1)}
        {curve(E_1ST_DIS, BLACK, "e1d")}
        {curve(E_1ST_CHG, BLACK, "e1c")}
        {curve(E_5TH_DIS, RED, "e5d")}
        {curve(E_5TH_CHG, RED, "e5c")}
        {curve(E_10TH_DIS, GREEN, "e10d")}
        {curve(E_10TH_CHG, GREEN, "e10c")}
        {curve(E_50TH_DIS, BLUE, "e50d")}
        {curve(E_50TH_CHG, BLUE, "e50c")}
        {curve(E_100TH_DIS, CYAN, "e100d")}
        {curve(E_100TH_CHG, CYAN, "e100c")}
        {E_ARROWS.map((a, i) => (
          <ReferenceLine key={`ea${i}`} yAxisId="l" segment={[{ x: a[0], y: a[1] }, { x: a[2], y: a[3] }]} shape={arrowShape} />
        ))}
      </Plot>
      {/* (f) */}
      <Plot r={RF}>
        {xAxis([0, 70], F_X_TICKS, 10, f0)}
        {yAxis([0, 1], CAP_TICKS, 0.2, f1)}
        {F_RATE_BOUNDS.map((c) => (
          <ReferenceLine key={`fr${c}`} yAxisId="l" x={c} stroke={DOT_BLUE} strokeWidth={1} strokeDasharray="2 2" />
        ))}
        <Line yAxisId="l" data={byCycle(F_WS1_CHG)} dataKey="y" stroke={LTGREEN} strokeWidth={2} dot={triDot(LTGREEN, 7.5)} activeDot={false} isAnimationActive={false} />
        <Line yAxisId="l" data={byCycle(F_WS1_DIS)} dataKey="y" stroke={DKGREEN} strokeWidth={2} dot={triDot(DKGREEN, 7.5)} activeDot={false} isAnimationActive={false} />
        <Line yAxisId="l" data={byCycle(F_WS2_CHG)} dataKey="y" stroke={RED} strokeWidth={2} dot={circleDot(RED, 3)} activeDot={false} isAnimationActive={false} />
        <Line yAxisId="l" data={byCycle(F_WS2_DIS)} dataKey="y" stroke={BLUE} strokeWidth={2} dot={circleDot(BLUE, 3)} activeDot={false} isAnimationActive={false} />
      </Plot>

      <Frame r={RA} />
      <Frame r={RB} />
      <Frame r={RC} />
      <Frame r={RD} rightBlack />
      <Frame r={RE} />
      <Frame r={RF} />

      {/* legend samples */}
      <svg width={1210} height={1207} style={{ position: "absolute", left: 0, top: 0, pointerEvents: "none" }}>
        {LEG_A.map(([ci, x1, x2, , y]) => (
          <line key={`la${ci}`} x1={x1} x2={x2} y1={y} y2={y} stroke={CV_COLORS[ci]} strokeWidth={2.5} />
        ))}
        {LEG_B.map(([ci, x1, x2, , y]) => (
          <line key={`lb${ci}`} x1={x1} x2={x2} y1={y} y2={y} stroke={CV_COLORS[ci]} strokeWidth={2.5} />
        ))}
        {LEG_C.map(([, c, x2, , y], i) => (
          <line key={`lc${i}`} x1={502} x2={x2} y1={y} y2={y} stroke={c} strokeWidth={2.5} />
        ))}
        {LEG_E.map(([, c, , y], i) => (
          <line key={`le${i}`} x1={490} x2={526} y1={y} y2={y} stroke={c} strokeWidth={2.5} />
        ))}
        {/* (d) */}
        <line x1={762} x2={793} y1={542} y2={542} stroke={LTGREEN} strokeWidth={2} />
        <path d={triPath(777, 542, 12)} fill={LTGREEN} />
        <line x1={763} x2={795} y1={567} y2={567} stroke={DKGREEN} strokeWidth={2} />
        <path d={triPath(779, 567, 12)} fill={DKGREEN} />
        <line x1={762} x2={793} y1={591} y2={591} stroke={RED} strokeWidth={2} />
        <circle cx={777} cy={591} r={5} fill={RED} />
        <line x1={763} x2={795} y1={616} y2={616} stroke={BLUE} strokeWidth={2} />
        <circle cx={779} cy={616} r={5} fill={BLUE} />
        {/* (f) */}
        <line x1={792} x2={825} y1={757} y2={757} stroke={RED} strokeWidth={2.2} />
        <circle cx={805} cy={757} r={6} fill={RED} />
        <line x1={794} x2={827} y1={782} y2={782} stroke={BLUE} strokeWidth={2.2} />
        <circle cx={810} cy={782} r={6} fill={BLUE} />
        <line x1={792} x2={825} y1={911} y2={911} stroke={LTGREEN} strokeWidth={2.2} />
        <path d={triPath(807, 911, 13)} fill={LTGREEN} />
        <line x1={794} x2={827} y1={935} y2={935} stroke={DKGREEN} strokeWidth={2.2} />
        <path d={triPath(811, 935, 13)} fill={DKGREEN} />
      </svg>

      {LEG_A.map(([ci, , , tx, y]) => (
        <Txt key={`ta${ci}`} x={tx} y={y} size={16.5} anchor="start">{CV_CYCLES[ci]}</Txt>
      ))}
      {LEG_B.map(([ci, , , tx, y]) => (
        <Txt key={`tb${ci}`} x={tx} y={y} size={16.5} anchor="start">{CV_CYCLES[ci]}</Txt>
      ))}
      {LEG_C.map(([label, , , tx, y], i) => (
        <Txt key={`tc${i}`} x={tx} y={y} size={17} anchor="start">{label}</Txt>
      ))}
      {LEG_E.map(([label, , tx, y], i) => (
        <Txt key={`te${i}`} x={tx} y={y} size={17} anchor="start">{label}</Txt>
      ))}

      {/* panel labels */}
      <Txt x={297} y={35} size={24}>(a)</Txt>
      <Txt x={429} y={52} size={27}>WS-1</Txt>
      <Txt x={694} y={35} size={24}>(b)</Txt>
      <Txt x={777} y={44} size={27}>WS-2</Txt>
      <Txt x={294} y={391} size={24}>(c)</Txt>
      <Txt x={507} y={410} size={27}>WS-1</Txt>
      <Txt x={667} y={395} size={24}>(d)</Txt>
      <Txt x={296} y={741} size={24}>(e)</Txt>
      <Txt x={521} y={754} size={27}>WS-2</Txt>
      <Txt x={682} y={744} size={24}>(f)</Txt>

      {/* annotations */}
      <Txt x={432} y={530} size={21} anchor="start">Charge</Txt>
      <Txt x={426} y={559} size={21} anchor="start">Discharge</Txt>
      <Txt x={408} y={882} size={21} anchor="start">Charge</Txt>
      <Txt x={449} y={911} size={21} anchor="start">Discharge</Txt>

      {/* (d) legend text */}
      <Txt x={726} y={542} size={19}>WS-1</Txt>
      <Txt x={799} y={542} size={19} anchor="start">Charge</Txt>
      <Txt x={802} y={567} size={19} anchor="start">Discharge</Txt>
      <Txt x={726} y={591} size={19}>WS-2</Txt>
      <Txt x={799} y={591} size={19} anchor="start">Charge</Txt>
      <Txt x={802} y={616} size={19} anchor="start">Discharge</Txt>

      {/* (f) legend text + rates */}
      <Txt x={758} y={757} size={19}>WS-2</Txt>
      <Txt x={830} y={757} size={19} anchor="start">Charge</Txt>
      <Txt x={832} y={782} size={19} anchor="start">Discharge</Txt>
      <Txt x={758} y={911} size={19}>WS-1</Txt>
      <Txt x={830} y={911} size={19} anchor="start">Charge</Txt>
      <Txt x={833} y={935} size={19} anchor="start">Discharge</Txt>
      {F_RATE_LABELS.map((s, i) => (
        <Txt key={`rl${i}`} x={[687, 734, 776, 816, 857, 899, 944][i]} y={975} size={19}>{s}</Txt>
      ))}

      {/* axis titles */}
      <Txt x={431} y={330} size={21}>Voltage (V vs Li<Sup>+</Sup>/Li)</Txt>
      <Txt x={216} y={158} size={21} rot>Current (mA)</Txt>
      <Txt x={823} y={332} size={21}>Voltage (V vs. Li<Sup>+</Sup>/Li)</Txt>
      <Txt x={617} y={156} size={21} rot>Current (mA)</Txt>
      <Txt x={425} y={685} size={21}>Capacity (A h g<Sup>-1</Sup>)</Txt>
      <Txt x={222} y={500} size={21} rot>Voltage (V vs. Li<Sup>+</Sup>/Li)</Txt>
      <Txt x={792} y={683} size={21}>Cycle Number</Txt>
      <Txt x={597} y={511} size={21} rot>Capacity (A h/g)</Txt>
      <Txt x={983} y={514} size={21} rot>Coulombic Efficiency (%)</Txt>
      <Txt x={428} y={1028} size={21}>Capacity (Ah/g)</Txt>
      <Txt x={223} y={853} size={21} rot>Voltage (V vs. Li<Sup>+</Sup>/Li)</Txt>
      <Txt x={813} y={1032} size={21}>Cycle Number</Txt>
      <Txt x={613} y={857} size={21} rot>Capacity (A h/g)</Txt>

      {/* caption */}
      <div style={{ position: "absolute", left: 10, top: 1066, width: 1182, fontFamily: SERIF, fontSize: 23, lineHeight: "27.6px", color: "#000" }}>
        <div style={{ textAlign: "justify", textAlignLast: "justify" }}>
          <b>Fig. 5.</b> Cyclic voltammetry curve of (a) WS-1 and (b) WS-2. Charge and discharge voltage profiles of LIB half-cell using
        </div>
        <div style={{ textAlign: "justify", textAlignLast: "justify" }}>
          (c) WS-1, tested between 0.01 and 3 V, at a rate of 0.1 C. (d) Charge/discharge capacity vs. cycle number for half cells
        </div>
        <div style={{ textAlign: "justify", textAlignLast: "justify" }}>
          using WS-1 and WS-2. The coulomb efficiency is plotted using the right axis. (e) Charge and discharge voltage profiles of
        </div>
        <div style={{ textAlign: "justify", textAlignLast: "justify" }}>
          LIB half-cell using WS-2, tested between 0.01 and 3 V, at a rate of 0.1 C. (f) Cycling performance of WS-1 and WS-2, as
        </div>
        <div>the C-rate is increased from 0.1 C to 5.0 C.</div>
      </div>
    </div>
  );
}
